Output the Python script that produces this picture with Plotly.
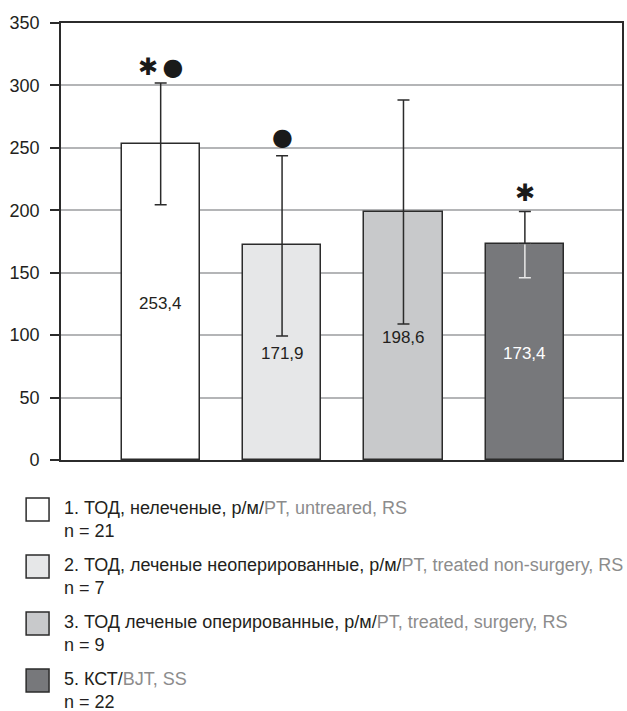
import plotly.graph_objects as go

# Group means and standard deviations
groups = ["1", "2", "3", "5"]
means = [253.4, 171.9, 198.6, 173.4]
sd_upper = [48.5, 71.8, 89.7, 25.6]
sd_lower = [49.0, 72.6, 89.7, 27.4]
value_labels = ["253,4", "171,9", "198,6", "173,4"]
label_y = [125.7, 85.7, 98.5, 85.7]
label_colors = ["#231f20", "#231f20", "#231f20", "#ffffff"]
bar_colors = ["#ffffff", "#e6e7e8", "#c8c9cb", "#77787b"]

# significance marks above bars
marks = [["✱", "●"], ["●"], [], ["✱"]]
mark_y = [315, 259, 0, 214]

yticks = [0, 50, 100, 150, 200, 250, 300, 350]

legend_ru = ["1. ТОД, нелеченые, р/м/", "2. ТОД, леченые неоперированные, р/м/",
             "3. ТОД леченые оперированные, р/м/", "5. КСТ/"]
legend_en = ["PT, untreared, RS", "PT, treated non-surgery, RS",
             "PT, treated, surgery, RS", "BJT, SS"]
legend_n = ["n = 21", "n = 7", "n = 9", "n = 22"]

FONT = "Liberation Sans, Arial, sans-serif"
DARK = "#231f20"
GREY = "#8c8c8c"
LINE = "#2b2b2b"

xs = list(range(len(groups)))

fig = go.Figure()
fig.add_trace(go.Bar(
    x=xs, y=means, width=0.645,
    marker=dict(color=bar_colors, line=dict(color=LINE, width=1.5)),
    showlegend=False, hoverinfo="skip",
))

# lower whisker inside the dark bar is drawn in white
fig.add_trace(go.Scatter(
    x=[xs[3]], y=[means[3]], mode="markers", marker=dict(opacity=0),
    error_y=dict(type="data", symmetric=False, array=[0], arrayminus=[sd_lower[3]],
                 color="#e8e8e8", thickness=1.5, width=6),
    showlegend=False, hoverinfo="skip",
))
lower_dark = [sd_lower[0], sd_lower[1], sd_lower[2], 0]
fig.add_trace(go.Scatter(
    x=xs, y=means, mode="markers", marker=dict(opacity=0),
    error_y=dict(type="data", symmetric=False, array=sd_upper, arrayminus=lower_dark,
                 color=LINE, thickness=1.5, width=6),
    showlegend=False, hoverinfo="skip",
))

sym_size = {"✱": 24, "●": 24}
for i in xs:
    fig.add_annotation(x=i, y=label_y[i], text=value_labels[i], showarrow=False,
                       font=dict(family=FONT, size=17, color=label_colors[i]))
    if marks[i]:
        text = "\u2009".join(f"<span style='font-size:{sym_size[m]}px'>{m}</span>"
                             for m in marks[i])
        fig.add_annotation(x=i, y=mark_y[i], text=text, showarrow=False,
                           font=dict(family="DejaVu Sans", size=22, color="#1a1a1a"))

# custom legend below the chart
swatch_top = [498, 555, 612, 669]
for k in range(len(legend_ru)):
    t = swatch_top[k]
    fig.add_shape(type="rect", xref="paper", yref="paper",
                  x0=(26 - 61) / 563, x1=(49 - 61) / 563,
                  y0=(460 - t) / 437, y1=(460 - t - 23) / 437,
                  fillcolor=bar_colors[k], line=dict(color=LINE, width=1.5))
    fig.add_annotation(xref="paper", yref="paper", x=(62 - 61) / 563,
                       y=(460 - t - 10) / 437, xanchor="left", yanchor="middle",
                       showarrow=False, align="left",
                       text=f"<span style='color:{DARK}'>{legend_ru[k]}</span>"
                            f"<span style='color:{GREY}'>{legend_en[k]}</span>",
                       font=dict(family=FONT, size=18, color=DARK))
    fig.add_annotation(xref="paper", yref="paper", x=(62 - 61) / 563,
                       y=(460 - t - 33) / 437, xanchor="left", yanchor="middle",
                       showarrow=False, align="left", text=legend_n[k],
                       font=dict(family=FONT, size=18, color=DARK))

fig.update_layout(
    width=627, height=711,
    margin=dict(l=61, r=3, t=23, b=251),
    plot_bgcolor="#ffffff", paper_bgcolor="#ffffff",
    font=dict(family=FONT, size=18, color=DARK),
    xaxis=dict(range=[-0.821, 3.80], showticklabels=False, ticks="",
               showgrid=False, zeroline=False, showline=True, mirror=True,
               linecolor=LINE, linewidth=1.5, fixedrange=True),
    yaxis=dict(range=[0, 350], tickvals=yticks,
               ticktext=[f"{v}\u2009\u2009" for v in yticks],
               ticks="outside", ticklen=9,
               tickcolor=LINE, tickwidth=1.5, showgrid=True,
               gridcolor="#b4b5b7", gridwidth=1.5, zeroline=False,
               showline=True, mirror=True, linecolor=LINE, linewidth=1.5,
               tickfont=dict(family=FONT, size=18, color=DARK), fixedrange=True),
    bargap=0,
)

fig.write_html("out.html")
